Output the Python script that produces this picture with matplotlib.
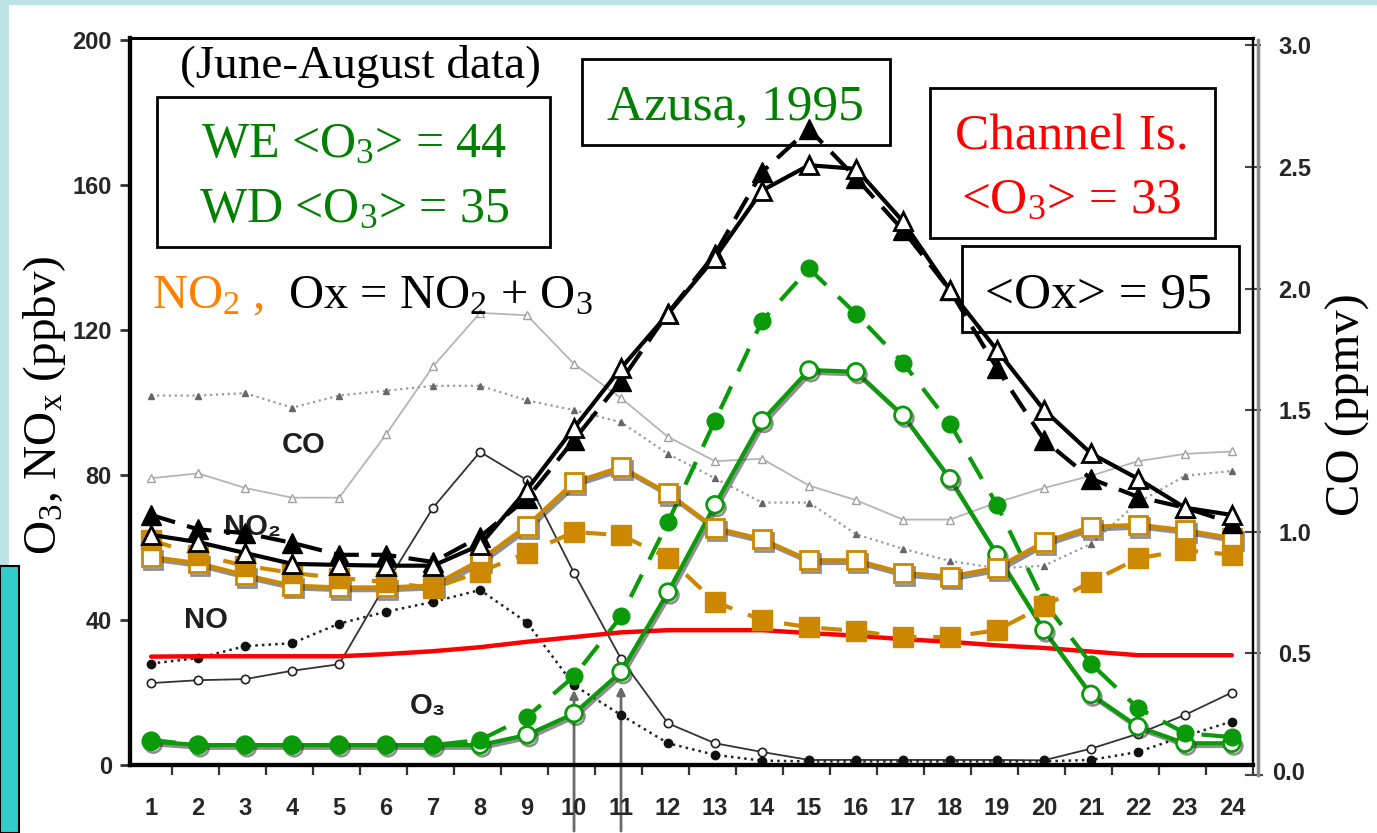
import matplotlib
matplotlib.use('Agg')
import matplotlib.pyplot as plt
import matplotlib.patheffects as pe
from matplotlib.patches import Rectangle
from matplotlib.lines import Line2D
import numpy as np

# Azusa 1995, June-August diurnal cycles (hour of day)
hours = list(range(1, 25))

# Ox = NO2 + O3 (ppbv), weekend (open) / weekday (filled)
ox_we = [63.5, 61.5, 58.5, 55.5, 55.2, 55, 55, 60.7, 76, 93, 109.5, 124.5,
         140, 158.5, 165.5, 164.5, 150, 131, 114.5, 98, 86, 79, 71, 69]
ox_wd = [69, 65, 64, 61.3, 58, 58, 56, 63, 73.6, 89.7, 106, 124.7,
         141, 163.6, 175.5, 162, 147.6, 131, 109.5, 89.7, 79, 74, 71, 66.8]

# NO2 (ppbv)
no2_we = [57.4, 55.7, 52.4, 49.5, 49, 49, 49.5, 56.5, 66, 78, 82.2, 75,
          65.4, 62.3, 56.5, 56.5, 53, 52, 54.4, 61.5, 65.7, 66.3, 64.8, 62.6]
no2_wd = [62, 58, 55, 53, 51.6, 50.5, 48.8, 53.3, 58.5, 64.3, 63.4, 57.2,
          45, 40, 38, 37, 35.3, 35.3, 37.2, 43.9, 50.5, 57, 59.3, 58]

# O3 (ppbv)
o3_we = [6.5, 5.5, 5.5, 5.5, 5.5, 5.5, 5.5, 5.5, 8.3, 14.2, 25.7, 47.7,
         71.8, 95, 109, 108.5, 96.5, 79, 58, 37.2, 19.5, 10.6, 6, 6]
o3_wd = [6.9, 5.5, 5.5, 5.5, 5.5, 5.5, 5.5, 6.9, 13.3, 24.5, 41, 67,
         95, 122.5, 137, 124.5, 111, 94.2, 71.8, 45, 28, 15.7, 8.8, 7.7]

# Channel Islands O3 (ppbv)
o3_channel = [29.9, 30, 30, 30, 30, 30.6, 31.4, 32.5, 34, 35.3, 36.6, 37.2,
              37.2, 37.2, 36.4, 35.7, 34.7, 34, 33, 32.3, 31.3, 30.3, 30.3, 30.3]

# NO (ppbv)
no_we = [22.6, 23.4, 23.7, 26, 27.8, 50, 71, 86.4, 78.6, 53, 29.3, 11.5,
         6, 3.6, 1.4, 1.4, 1.4, 1.4, 1.4, 1.3, 4.5, 8.6, 13.8, 20]
no_wd = [28, 29.5, 32.8, 33.6, 39, 42.3, 45, 48.3, 39.3, 22, 13.8, 6,
         2.8, 1.2, 1, 1, 1, 1, 1, 1, 1.4, 3.6, 8, 12]

# CO (ppmv, right axis)
co_we = [1.22, 1.24, 1.18, 1.14, 1.14, 1.40, 1.68, 1.90, 1.89, 1.69, 1.55, 1.39,
         1.29, 1.30, 1.19, 1.13, 1.05, 1.05, 1.12, 1.18, 1.23, 1.29, 1.32, 1.33]
co_wd = [1.56, 1.56, 1.57, 1.51, 1.56, 1.58, 1.60, 1.60, 1.54, 1.50, 1.45, 1.32,
         1.22, 1.12, 1.12, 0.99, 0.93, 0.88, 0.85, 0.86, 0.95, 1.12, 1.23, 1.25]

arrow_hours = [10, 11]
arrow_tips = [21.5, 22.5]

left_ticks = [0, 40, 80, 120, 160, 200]
right_ticks = [0.5, 1.0, 1.5, 2.0, 2.5, 3.0]

GREEN = '#0a9a0a'
ORANGE = '#cc8800'
TXT_GREEN = '#008000'
TXT_ORANGE = '#ff8000'
SERIF = ['Liberation Serif', 'DejaVu Serif']
NARROW = ['Liberation Sans Narrow', 'Liberation Sans', 'DejaVu Sans']

plt.rcParams['font.family'] = SERIF
plt.rcParams['mathtext.default'] = 'regular'

W, H = 1377, 833
fig = plt.figure(figsize=(W / 100, H / 100), dpi=100)


def fx(x):
    return x / W


def fy(y):
    return 1 - y / H


# outer slide decoration
fig.patches.append(Rectangle((0, fy(5)), 1, fy(0) - fy(5), transform=fig.transFigure,
                             facecolor='#bde3e5', edgecolor='none', zorder=0))
fig.patches.append(Rectangle((0, fy(566)), fx(9), fy(0) - fy(566), transform=fig.transFigure,
                             facecolor='#bde3e5', edgecolor='none', zorder=0))
fig.patches.append(Rectangle((0, 0), fx(19), fy(566), transform=fig.transFigure,
                             facecolor='#33cccc', edgecolor='black', lw=1.5, zorder=0))

ax = fig.add_axes([fx(130), fy(765), fx(1253) - fx(130), fy(38) - fy(765)])
ax2 = ax.twinx()
ax.set_zorder(ax2.get_zorder() + 1)
ax.patch.set_visible(False)

# background (scanned) series
ax2.plot(hours, co_we, '-', color='#b5b5b5', lw=1.3, marker='^', ms=6,
         mfc='white', mec='#a0a0a0', mew=1.0, zorder=1)
ax2.plot(hours, co_wd, ':', color='#9a9a9a', lw=1.6, marker='^', ms=5,
         mfc='#666666', mec='#666666', zorder=1)
ax.plot(hours, no_we, '-', color='#333333', lw=1.3, marker='o', ms=6,
        mfc='white', mec='#222222', mew=1.2, zorder=2)
ax.plot(hours, no_wd, ':', color='#222222', lw=1.8, marker='o', ms=6,
        mfc='#111111', mec='#111111', zorder=2)

for h, tip in zip(arrow_hours, arrow_tips):
    ax.annotate('', xy=(h, tip), xytext=(h, -19), xycoords='data', textcoords='data',
                arrowprops=dict(arrowstyle='-|>', color='#6a6a6a', lw=2, mutation_scale=12),
                annotation_clip=False, zorder=1)

# grey labels of the original figure
gl = dict(transform=fig.transFigure, family=['Liberation Sans', 'DejaVu Sans'],
          fontweight='bold', color='#1e1e1e', ha='center', va='center', zorder=1.5)
ax.text(fx(304), fy(445), 'CO', fontsize=21, **gl)
ax.text(fx(206), fy(620), 'NO', fontsize=21, **gl)
ax.text(fx(252), fy(527), 'NO\u2082', fontsize=21, **gl)
ax.text(fx(428), fy(706), 'O\u2083', fontsize=21, **gl)

shadow = [pe.SimpleLineShadow(offset=(1.5, -2), shadow_color='#333333', alpha=0.55), pe.Normal()]

# Channel Islands O3
ax.plot(hours, o3_channel, '-', color='#ff0000', lw=3.2, solid_capstyle='round', zorder=4)

# O3
ax.plot(hours, o3_we, '-', color=GREEN, lw=3, marker='o', ms=12, mfc='white',
        mec=GREEN, mew=2, zorder=5, path_effects=shadow)
ax.plot(hours, o3_wd, color=GREEN, lw=3, ls=(0, (6, 4)), marker='o', ms=12,
        mfc=GREEN, mec=GREEN, zorder=5.5)

# NO2
ax.plot(hours, no2_we, '-', color=ORANGE, lw=3, marker='s', ms=13, mfc='white',
        mec=ORANGE, mew=2, zorder=6, path_effects=shadow)
ax.plot(hours, no2_wd, color=ORANGE, lw=3, ls=(0, (5, 4)), marker='s', ms=14,
        mfc=ORANGE, mec=ORANGE, zorder=6.5)

# Ox
ax.plot(hours, ox_wd, color='black', lw=3, ls=(0, (6, 3)), marker='^', ms=14,
        mfc='black', mec='black', zorder=7)
ax.plot(hours, ox_we, '-', color='black', lw=3, marker='^', ms=13, mfc='white',
        mec='black', mew=2, zorder=7.5)

# axes
ax.set_xlim(0.55, 24.45)
ax.set_ylim(0, 200.6)
ax2.set_ylim(0.041, 3.03)

ax.set_xticks(hours)
ax.set_xticklabels([str(h) for h in hours])
ax.set_xticks(np.array(hours) + 0.45, minor=True)
ax.tick_params(axis='x', which='major', length=0, pad=23)
ax.tick_params(axis='x', which='minor', length=7, width=1.6, direction='out', color='#333333')
ax.set_yticks(left_ticks)
ax.set_yticklabels([str(t) for t in left_ticks])
ax.tick_params(axis='y', length=7, width=2, direction='out', pad=6, color='#333333')
ax2.set_yticks(right_ticks)
ax2.set_yticklabels(['%.1f' % t for t in right_ticks])
ax2.tick_params(axis='y', length=12, width=1.5, direction='inout', pad=12, color='#444444')

for lab in ax.get_xticklabels() + ax.get_yticklabels() + ax2.get_yticklabels():
    lab.set_fontfamily(NARROW)
    lab.set_fontsize(17)
    lab.set_fontweight('bold')
    lab.set_color('#262626')

# the 0.0 tick of the CO axis sits just below the frame
fig.text(fx(1272), fy(774), '0.0', fontsize=17, fontweight='bold', color='#262626',
         family=NARROW, va='center', ha='left')
fig.lines.append(Line2D([fx(1246), fx(1262)], [fy(775), fy(775)], transform=fig.transFigure,
                        color='#444444', lw=1.5))

for side, lw in [('left', 3), ('bottom', 3), ('top', 2), ('right', 1.6)]:
    ax.spines[side].set_linewidth(lw)
    ax2.spines[side].set_linewidth(lw)
ax2.spines['right'].set_color('black')
fig.lines.append(Line2D([fx(1258), fx(1258)], [fy(40), fy(775)], transform=fig.transFigure,
                        color='#8a8a8a', lw=2.5))

# axis titles
fig.text(fx(45), fy(405), 'O$_3$, NO$_x$ (ppbv)', rotation=90, fontsize=34,
         ha='center', va='center')
fig.text(fx(1348), fy(405), 'CO (ppmv)', rotation=90, fontsize=35,
         ha='center', va='center')

# annotation boxes
def box(x0, y0, x1, y1):
    fig.patches.append(Rectangle((fx(x0), fy(y1)), fx(x1) - fx(x0), fy(y0) - fy(y1),
                                 transform=fig.transFigure, fill=False,
                                 edgecolor='black', lw=2, zorder=5))


fig.text(fx(360), fy(78), '(June-August data)', fontsize=34, ha='center', va='baseline')
box(157, 97, 550, 247)
fig.text(fx(354), fy(157), 'WE <O$_3$> = 44', fontsize=36, color=TXT_GREEN,
         ha='center', va='baseline')
fig.text(fx(354), fy(222), 'WD <O$_3$> = 35', fontsize=36, color=TXT_GREEN,
         ha='center', va='baseline')

box(582, 59, 890, 145)
fig.text(fx(735), fy(120), 'Azusa, 1995', fontsize=37, color=TXT_GREEN,
         ha='center', va='baseline')

box(930, 88, 1215, 238)
fig.text(fx(1072), fy(150), 'Channel Is.', fontsize=37, color='#ff0000',
         ha='center', va='baseline')
fig.text(fx(1071), fy(213), '<O$_3$> = 33', fontsize=37, color='#ff0000',
         ha='center', va='baseline')

box(962, 246, 1239, 332)
fig.text(fx(1098), fy(308), '<Ox> = 95', fontsize=37, color='black',
         ha='center', va='baseline')

fig.text(fx(152), fy(308), 'NO$_2$ ,', fontsize=35, color=TXT_ORANGE,
         ha='left', va='baseline')
fig.text(fx(288), fy(308), 'Ox = NO$_2$ + O$_3$', fontsize=35, color='black',
         ha='left', va='baseline')

fig.savefig('out.png', dpi=100)
